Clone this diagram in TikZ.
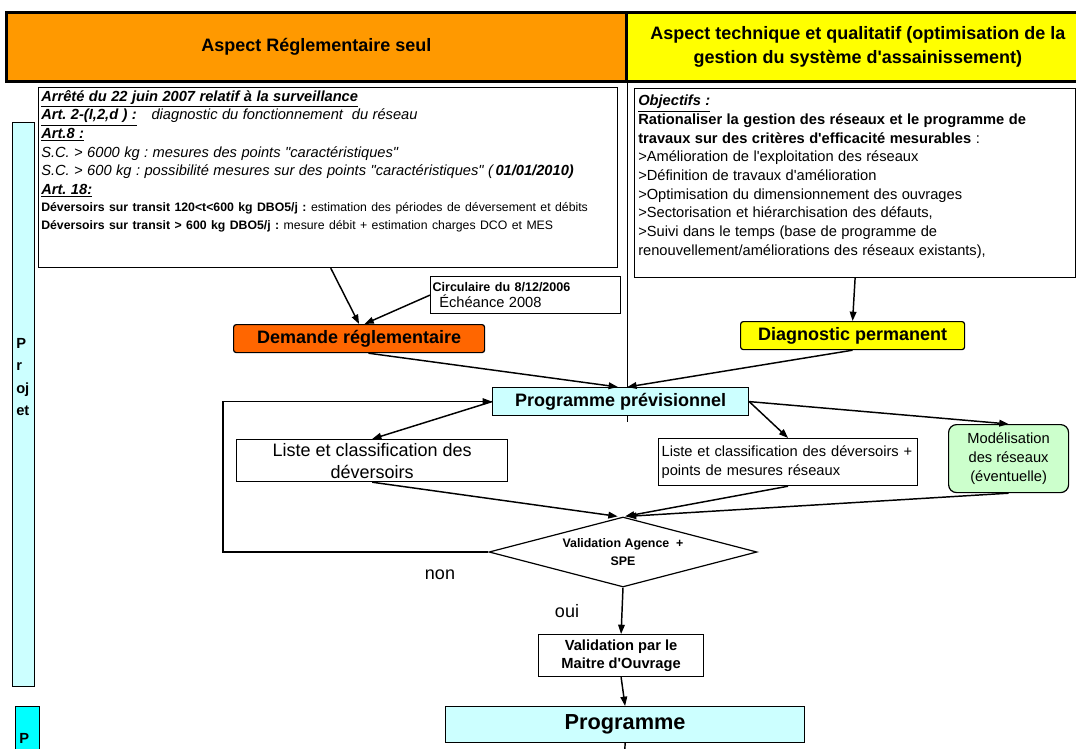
\documentclass[tikz,border=0pt]{standalone}
\usepackage{fontspec}
\setmainfont{Liberation Sans}
\usetikzlibrary{arrows.meta,shapes.geometric}
\definecolor{hdorange}{HTML}{FF9900}
\definecolor{hdyellow}{HTML}{FFFF00}
\definecolor{reqorange}{HTML}{FF6600}
\definecolor{paleblue}{HTML}{CCFFFF}
\definecolor{palegreen}{HTML}{CCFFCC}
\definecolor{brightcyan}{HTML}{00FFFF}
\newcommand{\fsz}[2]{\fontsize{#1}{#2}\selectfont}
\newcommand{\apo}{\textquotesingle}
\newcommand{\dquo}{\textquotedbl}
\newcommand{\arttitle}[1]{\textbf{\textit{\underline{#1}}}}
\frenchspacing

\begin{document}
\begin{tikzpicture}[x=0.75pt, y=-0.75pt,
  flow/.style={-{Triangle[length=7pt,width=5pt]}, line width=1.1pt},
  box/.style={draw, line width=0.9pt, inner sep=0pt, anchor=north west},
  header/.style={draw, line width=2pt, inner sep=0pt, anchor=north west, font=\fsz{13.5}{18}\bfseries, align=center},
  tag/.style={box, rounded corners=2pt, font=\fsz{13.5}{16}\bfseries}]
\useasboundingbox (0,0) rectangle (1076,749);
% column headers
\node[header, fill=hdorange, minimum width=465pt, minimum height=51.75pt] (hdleft) at (5,11) {Aspect Réglementaire seul};
\node[header, fill=hdyellow, minimum width=347.25pt, minimum height=51.75pt] (hdright) at (625,11) {Aspect technique et qualitatif (optimisation de la\\gestion du système d\apo assainissement)};
% side bars
\node[box, fill=paleblue, minimum width=16.5pt, minimum height=423pt] (projet) at (12,122) {};
\node[anchor=west, align=left, inner sep=0pt, font=\fsz{11}{16.8}\bfseries] (projettxt) at (16,377) {P\\r\\oj\\et};
\node[box, fill=brightcyan, minimum width=18pt, minimum height=45pt] (projet2) at (15,706) {};
\node[anchor=west, inner sep=0pt, font=\fsz{11}{13}\bfseries] (projet2txt) at (19,738) {P};
% regulatory texts
\node[box, minimum width=434.25pt, minimum height=135pt] (arrete) at (38,87) {};
\node[anchor=north west, inner sep=0pt, text width=430pt, align=left] (arretetxt) at (41,90) {\parindent=0pt\fsz{11}{14}%
\arttitle{Arrêté du 22 juin 2007 relatif à la surveillance}\par
\arttitle{Art. 2-(I,2,d ) :}\hspace{11pt}\textit{diagnostic du fonctionnement\ \ du réseau}\par
\arttitle{Art.8 :}\par
\textit{S.C. > 6000 kg : mesures des points \dquo caractéristiques\dquo}\par
\textit{S.C. > 600 kg : possibilité mesures sur des points \dquo caractéristiques\dquo\ (\,\textbf{01/01/2010)}}\par
\arttitle{Art. 18:}\par
\fsz{9.2}{13}%
\textbf{Déversoirs sur transit 120<t<600 kg DBO5/j :} estimation des périodes de déversement et débits\par
\textbf{Déversoirs sur transit > 600 kg DBO5/j :} mesure débit + estimation charges DCO et MES\par};
\node[box, minimum width=330.75pt, minimum height=141.75pt] (objectifs) at (634,88) {};
\node[anchor=north west, inner sep=0pt, text width=325pt, align=left] (objectifstxt) at (638,95) {\parindent=0pt\fsz{11}{14}%
\arttitle{Objectifs :}\par
\textbf{Rationaliser la gestion des réseaux et le programme de}\par
\textbf{travaux sur des critères d\apo efficacité mesurables} :\par
>Amélioration de l\apo exploitation des réseaux\par
>Définition de travaux d\apo amélioration\par
>Optimisation du dimensionnement des ouvrages\par
>Sectorisation et hiérarchisation des défauts,\par
>Suivi dans le temps (base de programme de\par
renouvellement/améliorations des réseaux existants),\par};
\node[box, minimum height=27.75pt, text width=139.5pt, inner xsep=1.5pt, align=left] (circ) at (430,276) {\fsz{9.4}{12}\textbf{Circulaire du 8/12/2006}\\\fsz{11}{12.5}\hspace*{5pt}Échéance 2008};
% flow boxes
\node[tag, fill=reqorange, minimum width=188.25pt, minimum height=21pt] (demande) at (233,324) {Demande réglementaire};
\node[tag, fill=hdyellow, minimum width=168pt, minimum height=21pt] (diag) at (740,321) {Diagnostic permanent};
\node[box, fill=paleblue, minimum width=192pt, minimum height=21pt, font=\fsz{13.5}{16}\bfseries] (pp) at (492,387) {Programme prévisionnel};
\node[box, minimum width=203.25pt, minimum height=31.5pt, align=center, font=\fsz{13.5}{16.5}] (liste1) at (236,439) {Liste et classification des\\déversoirs};
\node[box, minimum height=35.25pt, text width=189.75pt, inner xsep=2.25pt, align=left, font=\fsz{11}{14.3}] (liste2) at (658,438) {Liste et classification des déversoirs +\\points de mesures réseaux};
\node[box, fill=palegreen, rounded corners=6pt, minimum width=90pt, minimum height=51pt, align=center, font=\fsz{11}{13.9}] (model) at (948,424) {Modélisation\\des réseaux\\(éventuelle)};
\node[draw, diamond, aspect=3.83, line width=0.9pt, inner sep=0pt, minimum width=201pt, minimum height=52.5pt, align=center, font=\fsz{9.3}{14}\bfseries] (dia) at (623,552) {Validation Agence\ \ +\\SPE};
\node[box, minimum width=123.75pt, minimum height=31.5pt, align=center, font=\fsz{11}{14}\bfseries] (valid) at (538,634) {Validation par le\\Maitre d\apo Ouvrage};
\node[box, fill=paleblue, minimum width=269.25pt, minimum height=27pt, font=\fsz{16.3}{18}\bfseries] (prog) at (445,706) {Programme};
\node[font=\fsz{13.5}{16}] (non) at (440,575) {non};
\node[font=\fsz{13.5}{16}] (oui) at (567,611) {oui};
\coordinate (loopcorner) at (223,552);
\coordinate (progout) at (624.5,760);
% connectors
\draw[line width=1.1pt] (hdleft.south east) -- (hdleft.south east |- pp.north);
\draw[line width=1.1pt] (hdleft.south east |- pp.south) -- ++(0,6);
\draw[flow] ([xshift=2pt]arrete.south) -- (demande.north);
\draw[flow] (circ.west) -- ([xshift=4pt]demande.north);
\draw[flow] (objectifs.south) -- (diag.north);
\draw[flow] ([xshift=7pt]demande.south) -- ([xshift=-2pt]pp.north);
\draw[flow] (diag.south) -- ([xshift=5pt]pp.north);
\draw[flow] (pp.west) -- (liste1.north);
\draw[flow] (pp.east) -- (liste2.north);
\draw[flow] (pp.east) -- (model.north);
\draw[flow] (liste1.south) -- ([xshift=-4pt]dia.north);
\draw[flow] (liste2.south) -- ([xshift=1.5pt]dia.north);
\draw[flow] (model.south) -- ([xshift=3pt]dia.north);
\draw[flow] (dia.west) -- (loopcorner) |- (pp.west);
\draw[flow] (dia.south) -- (valid.north);
\draw[flow] (valid.south) -- (prog.north);
\draw[line width=1.1pt] (prog.south) -- (progout);
\end{tikzpicture}
\end{document}
